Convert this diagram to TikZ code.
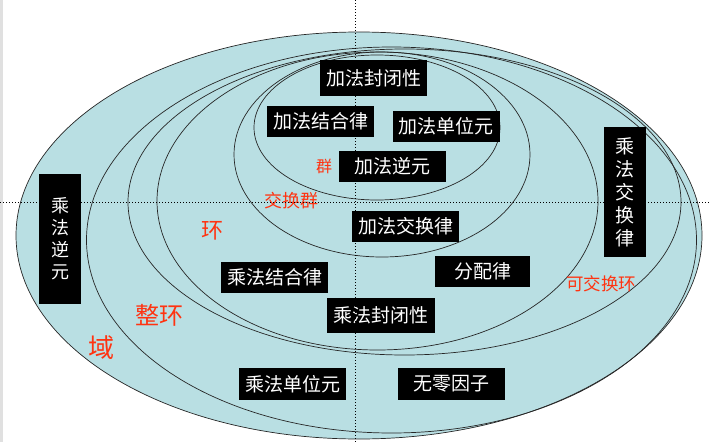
\documentclass[tikz,border=0pt]{standalone}
\usepackage{fontspec}
\newfontfamily\hei{Noto Sans CJK SC}
\usepackage{tikz}
\usetikzlibrary{positioning}
\definecolor{setblue}{RGB}{185,223,227}
\definecolor{tagred}{RGB}{255,51,17}

\begin{document}
\begin{tikzpicture}[
  x=1pt, y=-1pt,
  font=\hei,
  law/.style={rectangle, fill=black, text=white, inner sep=0pt,
              minimum width=107pt, minimum height=31pt,
              font=\hei\fontsize{19}{23}\selectfont},
  vlaw/.style={law, minimum width=42pt, minimum height=130pt, align=center},
  tag/.style={text=tagred, inner sep=0pt},
  rim/.style={draw=black!85, line width=0.7pt},
  guide/.style={draw=black, line width=0.6pt, dash pattern=on 1pt off 2pt},
]
\useasboundingbox (0,0) rectangle (710,442);
\fill[black!12] (0,0) rectangle (3,442);

% nested sets, outermost first
\filldraw[fill=setblue, rim] (359,235.5) ellipse [x radius=343, y radius=203.5];
\draw[rim] (391.5,240) ellipse [x radius=305, y radius=193];
\draw[rim] (404.5,202) ellipse [x radius=276.5, y radius=153];
\draw[rim] (377.5,201) ellipse [x radius=220.5, y radius=149];
\draw[rim] (382,154.5) ellipse [x radius=148, y radius=102.5];
\draw[rim] (377,127.5) ellipse [x radius=123, y radius=72.5];

% axioms
\node[law, minimum height=36pt] (addclose) at (373.5,78) {加法封闭性};
\node[law] (addassoc) at (320.5,121.5) {加法结合律};
\node[law] (addunit) at (446,126.5) {加法单位元};
\node[law] (addinv) at (392.5,166.5) {加法逆元};
\node[law] (addcomm) at (405.5,226.5) {加法交换律};
\node[law] (mulassoc) at (274.5,277.5) {乘法结合律};
\node[law, minimum width=95pt] (distrib) at (482.5,271.5) {分配律};
\node[law, minimum width=108pt, minimum height=35pt] (mulclose) at (381,315.5) {乘法封闭性};
\node[law, minimum height=32pt] (mulunit) at (292.5,384) {乘法单位元};
\node[law, minimum height=32pt] (nozero) at (451.5,384) {无零因子};
\node[vlaw] (mulcomm) at (625,192) {乘\\法\\交\\换\\律};
\node[vlaw, font=\hei\fontsize{18}{22}\selectfont] (mulinv) at (60,239) {乘\\法\\逆\\元};

% set names
\node[tag, font=\hei\fontsize{16}{16}\selectfont] (group) at (324,166) {群};
\node[tag, font=\hei\fontsize{18}{18}\selectfont] (abgroup) at (291,201) {交换群};
\node[tag, font=\hei\fontsize{22}{22}\selectfont] (ring) at (212,231) {环};
\node[tag, font=\hei\fontsize{17.5}{18}\selectfont] (cring) at (601,284) {可交换环};
\node[tag, font=\hei\fontsize{24}{24}\selectfont] (domain) at (159,315) {整环};
\node[tag, font=\hei\fontsize{26}{26}\selectfont] (field) at (101,348) {域};

% guides
\draw[guide] (355,0) -- (355,442);
\draw[guide] (0,202) -- (710,202);
\end{tikzpicture}
\end{document}
